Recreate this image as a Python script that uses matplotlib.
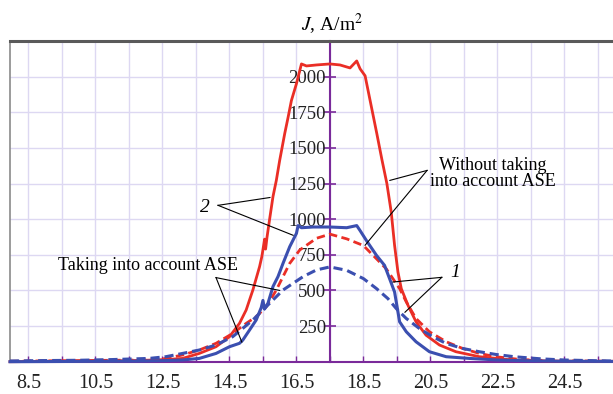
import numpy as np
import matplotlib
matplotlib.use('Agg')
import matplotlib.pyplot as plt

plt.rcParams['font.family'] = ['Liberation Serif', 'DejaVu Serif']
plt.rcParams['mathtext.fontset'] = 'stix'

# curve 2, without ASE (red solid)
x_red2 = [7.95, 9.0, 10.0, 11.0, 12.0, 12.6, 13.1, 13.6, 14.1, 14.5, 14.8, 15.0, 15.2, 15.4,
          15.47, 15.55, 15.58, 15.62, 15.7, 15.8, 15.9, 16.0, 16.15, 16.25, 16.35, 16.5, 16.65,
          16.8, 17.1, 17.5, 17.8, 18.1, 18.3, 18.4, 18.55, 18.7, 18.9, 19.05, 19.2, 19.33,
          19.43, 19.53, 19.63, 19.83, 20.07, 20.37, 20.77, 21.26, 21.96, 22.95, 24.0, 25.0, 25.95]
j_red2 = [0, 2, 3, 5, 10, 15, 23, 58, 105, 175, 269, 363, 503, 667,
          740, 860, 790, 870, 1000, 1158, 1272, 1412, 1600, 1713, 1832, 1950, 2089,
          2075, 2082, 2089, 2082, 2061, 2110, 2055, 2006, 1832, 1600, 1420, 1250, 1050,
          816, 630, 513, 396, 280, 186, 117, 70, 35, 12, 5, 3, 2]

# curve 2, with ASE (blue solid)
x_blue2 = [7.95, 9.0, 10.0, 11.0, 12.0, 12.6, 13.1, 13.6, 14.1, 14.5, 14.8, 14.9, 15.1, 15.3,
           15.45, 15.5, 15.55, 15.65, 15.8, 15.95, 16.1, 16.3, 16.5, 16.55, 16.65, 17.0, 17.5,
           18.0, 18.3, 18.4, 18.59, 18.89, 19.13, 19.28, 19.43, 19.53, 19.58, 19.78, 20.07,
           20.47, 20.97, 21.66, 22.5, 23.5, 24.5, 25.95]
j_blue2 = [0, 1, 2, 3, 5, 8, 12, 23, 58, 105, 129, 152, 222, 293,
           380, 430, 370, 410, 527, 597, 690, 807, 900, 955, 940, 945, 945,
           940, 955, 920, 850, 746, 676, 583, 489, 350, 280, 210, 140,
           70, 35, 23, 12, 6, 3, 2]

# curve 1, without ASE (red dashed)
x_red1 = [7.95, 9.0, 10.0, 11.0, 12.1, 12.6, 13.1, 13.6, 14.1, 14.6, 15.0, 15.3, 15.6, 15.9,
          16.1, 16.3, 16.6, 17.1, 17.5, 18.0, 18.5, 18.89, 19.18, 19.38, 19.58, 19.78, 20.07,
          20.47, 20.97, 21.46, 21.96, 22.45, 23.2, 24.0, 25.0, 25.95]
j_red1 = [3, 6, 8, 10, 12, 23, 47, 82, 129, 199, 269, 316, 386, 503,
          597, 690, 784, 866, 895, 862, 815, 722, 652, 583, 513, 419, 303,
          210, 140, 93, 58, 35, 15, 8, 5, 3]

# curve 1, with ASE (blue dashed)
x_blue1 = [7.95, 9.0, 10.0, 11.0, 12.1, 12.6, 13.1, 13.6, 14.1, 14.6, 14.9, 15.2, 15.5, 15.8,
           16.1, 16.4, 16.7, 17.1, 17.5, 18.0, 18.5, 18.89, 19.23, 19.48, 19.78, 20.17, 20.57,
           20.97, 21.46, 21.96, 22.45, 23.0, 23.8, 24.5, 25.2, 25.95]
j_blue1 = [5, 8, 10, 15, 23, 35, 58, 82, 117, 176, 234, 293, 363, 433,
           503, 550, 597, 644, 665, 641, 583, 513, 443, 373, 303, 233, 175,
           128, 93, 70, 51, 35, 20, 12, 8, 5]

x_labels = [8.5, 10.5, 12.5, 14.5, 16.5, 18.5, 20.5, 22.5, 24.5]
y_labels = [250, 500, 750, 1000, 1250, 1500, 1750, 2000]

red = '#ea2e26'
blue = '#3b4fb0'
purple = '#7a2a9a'
grid_c = '#ddd8f2'

fig = plt.figure(figsize=(6.13, 3.94), dpi=100)
ax = fig.add_axes([10 / 613, (394 - 361.7) / 394, 603 / 613, (361.7 - 41) / 394])

# axes through the middle of the picture
ax.spines['right'].set_visible(False)
ax.spines['left'].set_position(('data', 17.5))
ax.spines['left'].set_color(purple)
ax.spines['left'].set_linewidth(1.5)
ax.spines['left'].set_zorder(2)
ax.spines['bottom'].set_color(purple)
ax.spines['bottom'].set_linewidth(1.5)
ax.spines['top'].set_color('#5a5a5a')
ax.spines['top'].set_linewidth(2.2)
ax.plot([0, 0], [0, 1], transform=ax.transAxes, color='#8a8a8a', lw=1.2, clip_on=False)

ax.plot(x_red2, j_red2, color=red, lw=2.0, clip_on=False, zorder=3)
ax.plot(x_red1, j_red1, color=red, lw=2.0, ls=(0, (3, 1.6)), clip_on=False, zorder=3)
ax.plot(x_blue2, j_blue2, color=blue, lw=2.2, clip_on=False, zorder=4)
ax.plot(x_blue1, j_blue1, color=blue, lw=2.2, ls=(0, (3, 1.6)), clip_on=False, zorder=4)

ax.set_xlim(7.95, 25.95)
ax.set_ylim(0, 2250)

# ticks and grid
ax.set_xticks(np.arange(8.5, 26, 1), minor=True)
ax.set_xticks(x_labels)
ax.set_xticklabels([str(v) for v in x_labels])
ax.set_yticks(y_labels + [2250], minor=True)
ax.set_yticks(y_labels)
ax.set_yticklabels([str(v) for v in y_labels])
ax.grid(True, which='both', color=grid_c, lw=1.0)
ax.set_axisbelow(True)

ax.tick_params(axis='y', which='major', direction='inout', length=8, width=1.2,
               color=purple, pad=-1, labelsize=13.5, labelcolor='#222222')
ax.tick_params(axis='y', which='minor', length=0)
ax.tick_params(axis='x', which='both', direction='in', length=4, width=1.0,
               color=purple, pad=9, labelsize=14.5, labelcolor='#222222')

fig.text(332 / 613, 1 - 24 / 394, r'$J$, A/m$^2$', ha='center', va='center', fontsize=14)

# annotations
kw = dict(color='black', lw=0.8, zorder=5)
ax.text(22.37, 1320, 'Without taking\ninto account ASE', ha='center', va='center',
        fontsize=13, linespacing=0.95)
ax.plot([20.4, 19.29], [1342, 1272], **kw)
ax.plot([20.4, 18.55], [1342, 817], **kw)

ax.text(13.77, 1083, '2', style='italic', ha='center', va='center', fontsize=14)
ax.plot([14.16, 15.71], [1097, 1152], **kw)
ax.plot([14.16, 16.4], [1097, 887], **kw)

ax.text(12.07, 677, 'Taking into account ASE', ha='center', va='center', fontsize=13)
ax.plot([14.1, 16.0], [590, 500], **kw)
ax.plot([14.1, 14.87], [590, 138], **kw)

ax.text(21.23, 628, '1', style='italic', ha='center', va='center', fontsize=14)
ax.plot([20.84, 19.38], [592, 559], **kw)
ax.plot([20.84, 19.74], [592, 347], **kw)

fig.savefig('out.png', dpi=100)
